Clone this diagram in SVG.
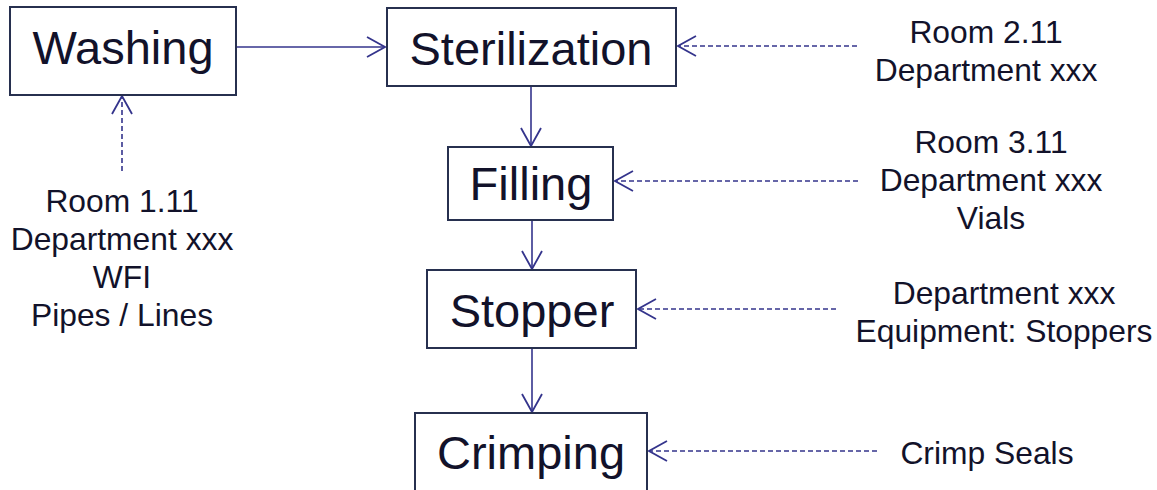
<svg xmlns="http://www.w3.org/2000/svg" width="1157" height="490" viewBox="0 0 1157 490">
<defs>
<style>
.box{fill:#fff;stroke:#27304f;stroke-width:2}
.title{font-family:"Liberation Sans",Arial,sans-serif;font-size:47px;fill:#12122a;text-anchor:middle}
.lbl{font-family:"Liberation Sans",Arial,sans-serif;font-size:31.8px;fill:#12122a;text-anchor:middle}
.solid{stroke:#34348c;stroke-width:1.6;fill:none}
.dash{stroke:#34348c;stroke-width:1.6;fill:none;stroke-dasharray:5 3}
</style>
<marker id="ah" viewBox="0 0 20 22" refX="19" refY="11" markerWidth="20" markerHeight="22" markerUnits="userSpaceOnUse" orient="auto">
<path d="M1,1 L19,11 L1,21" fill="none" stroke="#34348c" stroke-width="1.8"/>
</marker>
</defs>
<rect width="1157" height="490" fill="#fff"/>
<g id="connectors">
<line class="solid" x1="236" y1="47" x2="385" y2="47" marker-end="url(#ah)"/>
<line class="solid" x1="531" y1="87" x2="531" y2="146" marker-end="url(#ah)"/>
<line class="solid" x1="532" y1="221" x2="532" y2="269" marker-end="url(#ah)"/>
<line class="solid" x1="532" y1="348" x2="532" y2="412" marker-end="url(#ah)"/>
<line class="dash" x1="122" y1="171" x2="122" y2="96" marker-end="url(#ah)"/>
<line class="dash" x1="857" y1="46" x2="678" y2="46" marker-end="url(#ah)"/>
<line class="dash" x1="858" y1="181" x2="615" y2="181" marker-end="url(#ah)"/>
<line class="dash" x1="836" y1="309" x2="638" y2="309" marker-end="url(#ah)"/>
<line class="dash" x1="877" y1="451" x2="649" y2="451" marker-end="url(#ah)"/>
</g>
<g id="washing"><rect class="box" x="10" y="7" width="226" height="88"/><text class="title" x="123" y="64">Washing</text></g>
<g id="sterilization"><rect class="box" x="387" y="8" width="289" height="78"/><text class="title" x="531" y="65">Sterilization</text></g>
<g id="filling"><rect class="box" x="448" y="147" width="165" height="73"/><text class="title" x="531" y="200">Filling</text></g>
<g id="stopper"><rect class="box" x="427" y="270" width="209" height="78"/><text class="title" x="532" y="327">Stopper</text></g>
<g id="crimping"><rect class="box" x="415" y="413" width="232" height="90"/><text class="title" x="531" y="469">Crimping</text></g>
<g id="label-washing"><text class="lbl" x="122" y="212">Room 1.11</text><text class="lbl" x="122" y="250">Department xxx</text><text class="lbl" x="122" y="288">WFI</text><text class="lbl" x="122" y="326">Pipes / Lines</text></g>
<g id="label-sterilization"><text class="lbl" x="986" y="43">Room 2.11</text><text class="lbl" x="986" y="81">Department xxx</text></g>
<g id="label-filling"><text class="lbl" x="991" y="153">Room 3.11</text><text class="lbl" x="991" y="191">Department xxx</text><text class="lbl" x="991" y="229">Vials</text></g>
<g id="label-stopper"><text class="lbl" x="1004" y="304">Department xxx</text><text class="lbl" x="1004" y="342">Equipment: Stoppers</text></g>
<g id="label-crimping"><text class="lbl" x="987" y="464">Crimp Seals</text></g>
</svg>
